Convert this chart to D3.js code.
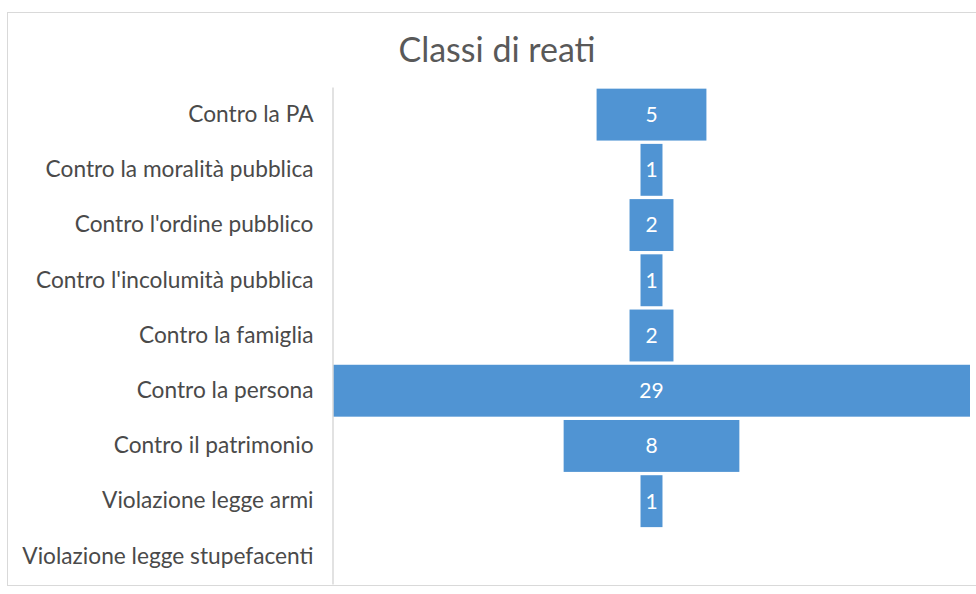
<!DOCTYPE html>
<html>
<head>
<meta charset="utf-8">
<script src="https://cdn.jsdelivr.net/npm/d3@7"></script>
<style>
  body { margin: 0; background: #fff; }
  text { font-family: Lato, "Open Sans", sans-serif; }
</style>
</head>
<body>
<div id="vis"></div>
<script>
// categories top to bottom
const categories = [
  'Contro la PA',
  'Contro la moralità pubblica',
  "Contro l'ordine pubblico",
  "Contro l'incolumità pubblica",
  'Contro la famiglia',
  'Contro la persona',
  'Contro il patrimonio',
  'Violazione legge armi',
  'Violazione legge stupefacenti'
];
const values = [5, 1, 2, 1, 2, 29, 8, 1, 0];

const width = 976;
const height = 594;

const svg = d3.select('#vis')
  .append('svg')
  .attr('width', width)
  .attr('height', height);

// chart frame
svg.append('rect')
  .attr('x', 7.5)
  .attr('y', 12.5)
  .attr('width', 990)
  .attr('height', 573)
  .attr('fill', '#fff')
  .attr('stroke', '#d9d9d9');

svg.append('text')
  .attr('x', 497)
  .attr('y', 62)
  .attr('text-anchor', 'middle')
  .attr('font-size', 34)
  .attr('fill', '#595959')
  .text('Classi di reati');

let plotLeft = 333, plotRight = 970;
let y = d3.scaleBand()
  .domain(categories)
  .range([87, 584])
  .paddingInner(0.06)
  .paddingOuter(0.03);

// funnel: bars centred, widest bar spans the plot
let maxVal = d3.max(values);
let x = d3.scaleLinear()
  .domain([-maxVal / 2, maxVal / 2])
  .range([plotLeft, plotRight]);

let data = categories.map((c, i) => ({ name: c, value: values[i] }));

svg.selectAll('.bar')
  .data(data.filter(d => d.value > 0))
  .enter().append('rect')
  .attr('class', 'bar')
  .attr('x', d => x(-d.value / 2))
  .attr('y', d => y(d.name))
  .attr('width', d => x(d.value / 2) - x(-d.value / 2))
  .attr('height', y.bandwidth())
  .attr('fill', '#5094d3');

svg.selectAll('.val')
  .data(data.filter(d => d.value > 0))
  .enter().append('text')
  .attr('class', 'val')
  .attr('x', x(0))
  .attr('y', d => y(d.name) + y.bandwidth() / 2)
  .attr('dy', '0.35em')
  .attr('text-anchor', 'middle')
  .attr('font-size', 21)
  .attr('fill', '#fff')
  .text(d => d.value);

// category axis
let yAxis = d3.axisLeft(y).tickSize(0).tickPadding(19);
let gy = svg.append('g')
  .attr('transform', `translate(${plotLeft - 0.5},0)`)
  .call(yAxis);
gy.select('.domain').attr('stroke', '#d9d9d9').attr('stroke-width', 1.5);
gy.selectAll('text')
  .attr('font-size', 22.7)
  .attr('fill', '#4a4a4a')
  .style('font-family', 'Lato, "Open Sans", sans-serif');
</script>
</body>
</html>
